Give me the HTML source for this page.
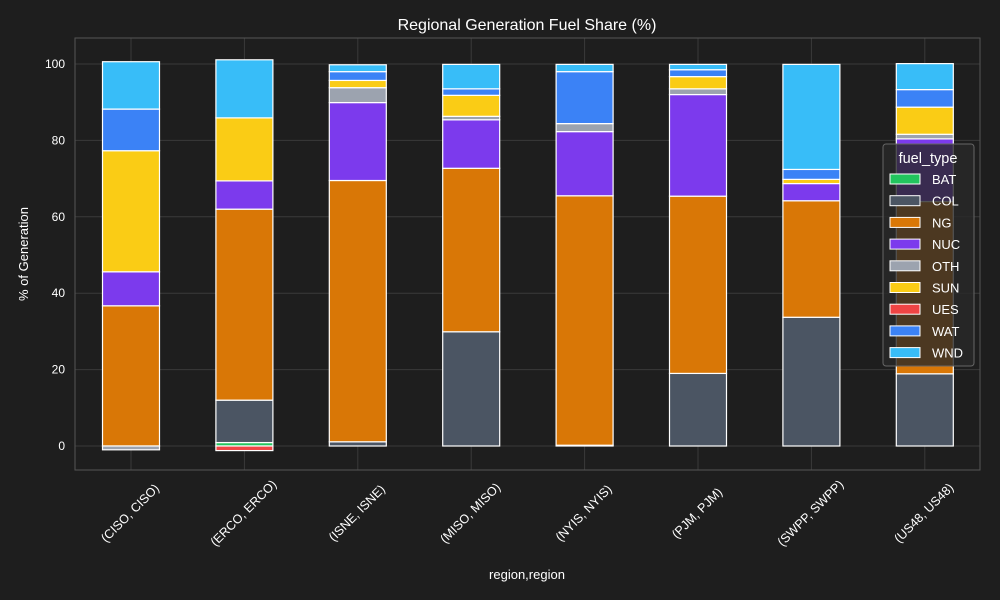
<!DOCTYPE html>
<html><head><meta charset="utf-8"><style>
html,body{margin:0;background:#1e1e1e;overflow:hidden;}
svg{display:block;}
svg text{font-family:"Liberation Sans",sans-serif;fill:#fff;}
</style></head><body>
<svg id="chart" width="1000" height="600">
<rect width="1000" height="600" fill="#1e1e1e"/>
<g id="grid"></g><g id="bars"></g><g id="axes"></g>
<text x="527" y="30" text-anchor="middle" font-size="16">Regional Generation Fuel Share (%)</text>
<text x="527" y="579" text-anchor="middle" font-size="13">region,region</text>
<text transform="translate(28,254) rotate(-90)" text-anchor="middle" font-size="13">% of Generation</text>
<g id="legend"></g>
</svg>
<script>
const categories=["(CISO, CISO)","(ERCO, ERCO)","(ISNE, ISNE)","(MISO, MISO)","(NYIS, NYIS)","(PJM, PJM)","(SWPP, SWPP)","(US48, US48)"];
const fuels=["BAT","COL","NG","NUC","OTH","SUN","UES","WAT","WND"];
const colors=["#22c55e","#4b5563","#d97706","#7c3aed","#9ca3af","#facc15","#ef4444","#3b82f6","#38bdf8"];
const BAT=[0,0.9,0,0,0,0,0,0];
const COL=[0,11.1,1.1,29.9,0.2,19.0,33.7,18.9];
const NG=[36.7,50.0,68.4,42.8,65.3,46.4,30.5,45.1];
const NUC=[8.9,7.4,20.4,12.7,16.8,26.6,4.5,16.4];
const OTH=[-1.0,0,3.9,0.9,2.1,1.5,0,1.2];
const SUN=[31.7,16.5,1.9,5.5,0,3.2,1.1,7.1];
const UES=[0,-1.2,0,0,0,0,0,0];
const WAT=[10.9,0,2.3,1.7,13.6,1.8,2.6,4.6];
const WND=[12.4,15.2,1.8,6.4,1.9,1.4,27.5,6.8];
const series=[BAT,COL,NG,NUC,OTH,SUN,UES,WAT,WND];
const yTicks=[0,20,40,60,80,100];
const NS="http://www.w3.org/2000/svg";
const L=75,R=980,T=38,B=470;
const y=v=>446-v*3.82;
const x=i=>131+i*113.4;
const bw=57;
function mk(tag,attrs,parent){const e=document.createElementNS(NS,tag);for(const k in attrs)e.setAttribute(k,attrs[k]);parent.appendChild(e);return e;}
const grid=document.getElementById('grid'),bars=document.getElementById('bars'),axes=document.getElementById('axes'),leg=document.getElementById('legend');
yTicks.forEach(t=>{
 const g=mk('line',{x1:L,x2:R,y1:y(t),y2:y(t),stroke:'#3a3a3a','stroke-width':1},grid);
 
 
 const tx=mk('text',{x:L-10,y:y(t)+4,'text-anchor':'end','font-size':12},axes);
 tx.textContent=t;
 
 
});
categories.forEach((c,i)=>{
 const g=mk('line',{x1:x(i),x2:x(i),y1:T,y2:B,stroke:'#3a3a3a','stroke-width':1},grid);
 
 
 const tx=mk('text',{transform:`translate(${x(i)+2},${B+46}) rotate(-45)`,'text-anchor':'middle','font-size':12.5},axes);
 tx.textContent=c;
 
 
 let pos=0,neg=0;
 series.forEach((s,k)=>{
  const v=s[i]; if(!v) return;
  let y0,y1;
  if(v>0){y0=pos;y1=pos+v;pos=y1;}else{y0=neg;y1=neg+v;neg=y1;}
  const r=mk('rect',{x:x(i)-bw/2,y:Math.min(y(y0),y(y1)),width:bw,height:Math.abs(y(y1)-y(y0)),fill:colors[k],stroke:'#fff','stroke-width':1.2},bars);
  
  
 });
});
const fr=mk('rect',{x:L,y:T,width:R-L,height:B-T,fill:'none',stroke:'#555','stroke-width':1},axes);


const lb=mk('rect',{x:883,y:144,width:91,height:222,rx:3,fill:'rgba(40,40,40,0.8)',stroke:'#666'},leg);


const lt=mk('text',{x:928,y:163,'text-anchor':'middle','font-size':14.5},leg);
lt.textContent='fuel_type';


fuels.forEach((f,k)=>{
 const yy=174+k*21.7;
 const sw=mk('rect',{x:890,y:yy,width:30,height:10,fill:colors[k],stroke:'#fff','stroke-width':1},leg);
 
 
 const t=mk('text',{x:932,y:yy+10,'font-size':13},leg);
 t.textContent=f;
 
 
});
</script>
</body></html>
